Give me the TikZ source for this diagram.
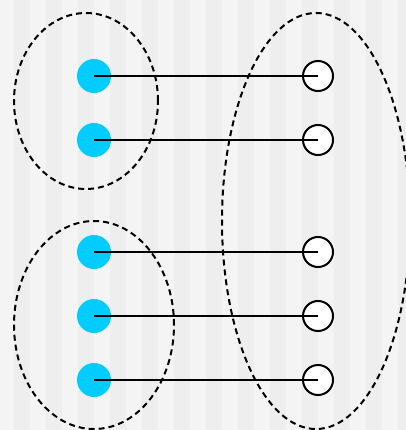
\documentclass[tikz,border=0pt]{standalone}
\usetikzlibrary{positioning}

\definecolor{dotblue}{HTML}{00CCFF}
\definecolor{stripelight}{HTML}{F4F4F4}
\definecolor{stripedark}{HTML}{EEEEEE}

\begin{document}
\begin{tikzpicture}[x=1pt,y=-1pt,node distance=64pt,on grid,
    src/.style={circle,fill=dotblue,minimum size=34pt,inner sep=0pt},
    dst/.style={circle,draw,line width=2pt,fill=white,minimum size=30pt,inner sep=0pt},
    link/.style={line width=2pt},
    group/.style={draw,line width=2pt,dash pattern=on 6pt off 4pt}]
      \useasboundingbox (0,0) rectangle (405,430);

      % striped background
      \fill[stripelight] (0,0) rectangle (405,430);
      \foreach \x in {14,46,...,398}
        \fill[stripedark] (\x,0) rectangle (\x+16,430);

      % groups
      \draw[group] (86,101) ellipse [x radius=72pt, y radius=88pt];
      \draw[group] (94,325) ellipse [x radius=80pt, y radius=104pt];
      \draw[group] (316,221) ellipse [x radius=94pt, y radius=208pt];

      \node[src] (b1) at (94,76) {};
      \node[src] (b2) [below=of b1] {};
      \node[src] (b3) [below=112pt of b2] {};
      \node[src] (b4) [below=of b3] {};
      \node[src] (b5) [below=of b4] {};

      \node[dst] (w1) [right=224pt of b1] {};
      \node[dst] (w2) [right=224pt of b2] {};
      \node[dst] (w3) [right=224pt of b3] {};
      \node[dst] (w4) [right=224pt of b4] {};
      \node[dst] (w5) [right=224pt of b5] {};

      \path[link]
        (b1.center) edge (w1.center)
        (b2.center) edge (w2.center)
        (b3.center) edge (w3.center)
        (b4.center) edge (w4.center)
        (b5.center) edge (w5.center);
    \end{tikzpicture}
\end{document}
